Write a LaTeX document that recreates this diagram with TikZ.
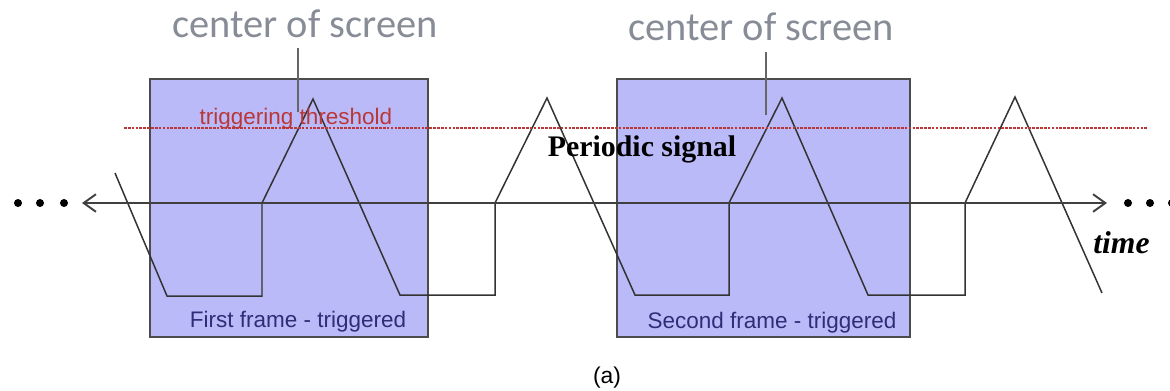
\documentclass[tikz,border=0pt]{standalone}
\usepackage{fontspec}
\setmainfont{Liberation Serif}
\setsansfont{Liberation Sans}
\newfontfamily\carlito{Carlito}
\usepackage{tikz}
\usetikzlibrary{arrows.meta,positioning}
\definecolor{framefill}{RGB}{187,186,248}
\definecolor{thrred}{RGB}{185,55,55}
\definecolor{cosgrey}{RGB}{135,140,150}
\definecolor{lblblue}{RGB}{45,45,120}

\begin{document}
\begin{tikzpicture}[x=0.02cm,y=-0.02cm,
  frame/.style={rectangle, draw=black!70, line width=1.1pt, fill=framefill, inner sep=0pt},
  sig/.style={draw=black!80, line width=0.85pt},
  axis/.style={draw=black!75, line width=1.1pt, {Straight Barb[length=7pt,width=10pt]}-{Straight Barb[length=7pt,width=10pt]}},
  thr/.style={draw=thrred, line width=0.6pt, dash pattern=on 1.5pt off 0.7pt},
  cos/.style={font=\carlito\fontsize{23}{26}\selectfont, text=cosgrey, inner sep=0pt, anchor=base},
  lead/.style={draw=black!60, line width=0.6pt},
  lbl/.style={font=\sffamily\fontsize{12.8}{14}\selectfont, inner sep=0pt, anchor=base},
  dot/.style={circle, fill=black, inner sep=0pt, minimum size=0.16cm}
]
\useasboundingbox (0,0) rectangle (1170,390);

% the two screen frames
\node[frame, minimum width=5.56cm, minimum height=5.16cm] (frameA) at (289,208) {};
\node[frame, minimum width=5.86cm, minimum height=5.16cm] (frameB) at (763.5,208) {};
\node[lbl, text=lblblue] (firstlbl)  at (298,327) {First frame - triggered};
\node[lbl, text=lblblue] (secondlbl) at (772,328) {Second frame - triggered};

% signal
\draw[sig] (115,173) -- (167,296) -- (262,296) -- (262,203) -- (313,99)
  -- (400,295) -- (495,295) -- (495,203) -- (547,98)
  -- (635,295) -- (729,295) -- (729,203) -- (782,98)
  -- (868,295) -- (965,295) -- (965,203) -- (1015,97) -- (1102,293);

% threshold
\coordinate (thrL) at (124,128);
\coordinate (thrR) at (1147,128);
\draw[thr] (thrL) -- (thrR);
\node[lbl, text=thrred] (thrlbl) at (296,124) {triggering threshold};

% time axis
\coordinate (axL) at (82,203);
\coordinate (axR) at (1107,203);
\draw[axis] (axL) -- (axR);
\foreach \x [count=\i] in {18,40,64} \node[dot] (dl\i) at (\x,203) {};
\foreach \x [count=\i] in {1128,1150,1172} \node[dot] (dr\i) at (\x,203) {};
\node[font=\bfseries\itshape\fontsize{18}{20}\selectfont, anchor=base west, inner sep=0pt] (timelbl) at (1093,253) {time};
\node[font=\bfseries\fontsize{17}{20}\selectfont, anchor=base, inner sep=0pt] (perlbl) at (642,156) {Periodic signal};

% center of screen marks
\node[cos] (cosA) at (305,37) {center of screen};
\node[cos] (cosB) at (761,40) {center of screen};
\coordinate (markA) at (298,112);
\coordinate (markB) at (766,115);
\draw[lead] (298,48) -- (markA);
\draw[lead] (766,52) -- (markB);

\node[font=\sffamily\fontsize{13}{15}\selectfont, anchor=base, inner sep=0pt] (caption) at (607,383) {(a)};
\end{tikzpicture}
\end{document}
